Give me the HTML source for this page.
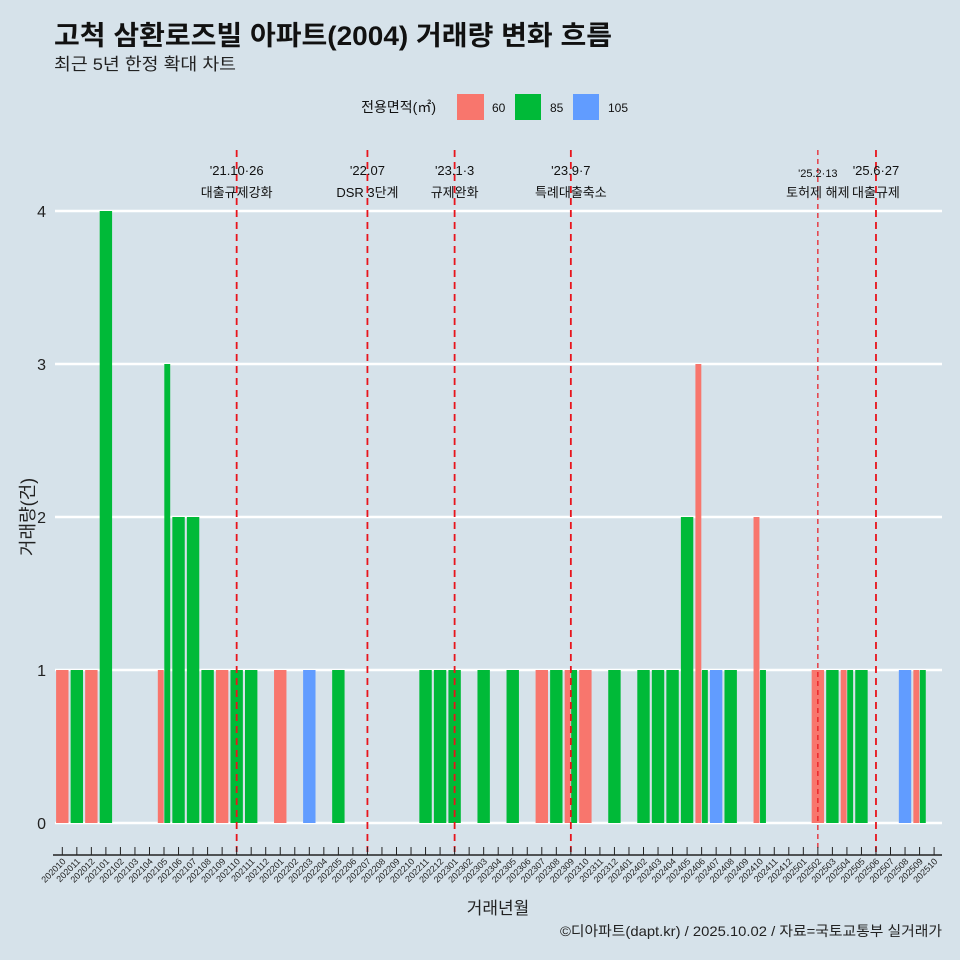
<!DOCTYPE html>
<html><head><meta charset="utf-8"><style>
body{margin:0;background:#d6e2ea;}
svg{display:block;font-family:"Liberation Sans","Noto Sans CJK KR",sans-serif;}
</style></head><body>
<svg id="c" width="960" height="960" viewBox="0 0 960 960">
<rect width="960" height="960" fill="#d6e2ea"/>
<text x="54" y="45" font-size="27" font-weight="bold" fill="#111" textLength="558" lengthAdjust="spacingAndGlyphs">고척 삼환로즈빌 아파트(2004) 거래량 변화 흐름</text>
<text x="54" y="70" font-size="17" fill="#222" textLength="182" lengthAdjust="spacingAndGlyphs">최근 5년 한정 확대 차트</text>
<g>
<text x="436" y="112" font-size="14" text-anchor="end" fill="#111">전용면적(㎡)</text>
<rect x="457" y="94" width="27" height="26" fill="#f8766d"/>
<text x="492" y="112" font-size="12" fill="#111">60</text>
<rect x="515" y="94" width="26" height="26" fill="#00ba38"/>
<text x="550" y="112" font-size="12" fill="#111">85</text>
<rect x="573" y="94" width="26" height="26" fill="#619cff"/>
<text x="608" y="112" font-size="12" fill="#111">105</text>
</g>
<g id="grid"></g><g id="bars"></g><g id="events"></g><g id="axes"></g>
<text transform="translate(34,517) rotate(-90)" font-size="18" text-anchor="middle" fill="#222">거래량(건)</text>
<text x="498" y="914" font-size="17" text-anchor="middle" fill="#222">거래년월</text>
<text x="942" y="936" font-size="14" text-anchor="end" fill="#222" textLength="382" lengthAdjust="spacingAndGlyphs">©디아파트(dapt.kr) / 2025.10.02 / 자료=국토교통부 실거래가</text>
</svg>
<script>
const months=["202010","202011","202012","202101","202102","202103","202104","202105","202106","202107","202108","202109","202110","202111","202112","202201","202202","202203","202204","202205","202206","202207","202208","202209","202210","202211","202212","202301","202302","202303","202304","202305","202306","202307","202308","202309","202310","202311","202312","202401","202402","202403","202404","202405","202406","202407","202408","202409","202410","202411","202412","202501","202502","202503","202504","202505","202506","202507","202508","202509","202510"];
const sizes=["60","85","105"];
const colors=["#f8766d","#00ba38","#619cff"];
const v60 =[1,0,1,0,0,0,0,1,0,0,0,1,0,0,0,1,0,0,0,0,0,0,0,0,0,0,0,0,0,0,0,0,0,1,0,1,1,0,0,0,0,0,0,0,3,0,0,0,2,0,0,0,1,0,1,0,0,0,0,1,0];
const v85 =[0,1,0,4,0,0,0,3,2,2,1,0,1,1,0,0,0,0,0,1,0,0,0,0,0,1,1,1,0,1,0,1,0,0,1,1,0,0,1,0,1,1,1,2,1,0,1,0,1,0,0,0,0,1,1,1,0,0,0,1,0];
const v105=[0,0,0,0,0,0,0,0,0,0,0,0,0,0,0,0,0,1,0,0,0,0,0,0,0,0,0,0,0,0,0,0,0,0,0,0,0,0,0,0,0,0,0,0,0,1,0,0,0,0,0,0,0,0,0,0,0,0,1,0,0];
const yTicks=[0,1,2,3,4];
const evMonths=["202110","202207","202301","202309","202502","202506"];
const evDate=["'21.10·26","'22.07","'23.1·3","'23.9·7","'25.2·13","'25.6·27"];
const evLabel=["대출규제강화","DSR 3단계","규제완화","특례대출축소","토허제 해제","대출규제"];

const NS="http://www.w3.org/2000/svg";
function mk(tag,attrs,parent){const e=document.createElementNS(NS,tag);for(const k in attrs)e.setAttribute(k,attrs[k]);parent.appendChild(e);return e;}
const X0=62.3,STEP=14.53,Y0=823,UNIT=153,BW=13;
const x=i=>X0+i*STEP, y=v=>Y0-v*UNIT;
const grid=document.getElementById('grid'),bars=document.getElementById('bars'),ev=document.getElementById('events'),axes=document.getElementById('axes');
yTicks.forEach(t=>{
  const l=mk('line',{x1:55,x2:942,y1:y(t),y2:y(t),stroke:'#fff','stroke-width':2.5},grid);
  
  
  const tx=mk('text',{x:46,y:y(t)+6,'font-size':16,'text-anchor':'end',fill:'#222'},axes);
  tx.textContent=t;
  
  
});
const series=[v60,v85,v105];
months.forEach((m,i)=>{
  const present=[0,1,2].filter(s=>series[s][i]>0);
  const w=BW/Math.max(present.length,1);
  present.forEach((s,k)=>{
    const val=series[s][i];
    const r=mk('rect',{x:x(i)-BW/2+k*w+0.3,y:y(val),width:w-0.6,height:val*UNIT,fill:colors[s]},bars);
    
    
  });
  const tk=mk('line',{x1:x(i),x2:x(i),y1:847,y2:855,stroke:'#222','stroke-width':1},axes);
  
  
  const lb=mk('text',{x:x(i)+4,y:862,'font-size':9,'text-anchor':'end',fill:'#222',transform:`rotate(-45 ${x(i)+4} 862)`},axes);
  lb.textContent=m;
  
  
});
const ax=mk('line',{x1:53,x2:942,y1:855,y2:855,stroke:'#222','stroke-width':1.5},axes);


evMonths.forEach((m,k)=>{
  const i=months.indexOf(m);const xx=x(i);
  const thin=m==="202502";
  const l=mk('line',{x1:xx,x2:xx,y1:150,y2:852,stroke:'#e8141c','stroke-width':thin?1.2:1.8,'stroke-dasharray':thin?'5 4':'7 5'},ev);
  
  
  const t1=mk('text',{x:xx,y:thin?177:175,'font-size':thin?11:13,'text-anchor':'middle',fill:'#111'},ev);
  t1.textContent=evDate[k];
  
  
  const t2=mk('text',{x:xx,y:197,'font-size':13,'text-anchor':'middle',fill:'#111'},ev);
  t2.textContent=evLabel[k];
  
  
});
</script>
</body></html>
